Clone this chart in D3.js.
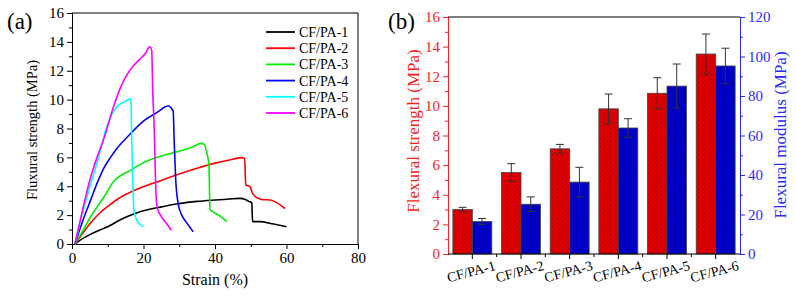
<!DOCTYPE html>
<html lang="en">
<head>
<meta charset="UTF-8">
<title>Flexural</title>
<style>
  body { margin: 0; background: #fff; }
  svg { display: block; }
  svg text { font-family: "Liberation Serif", serif; }
</style>
</head>
<body>
<svg width="796" height="297"></svg>
<script src="https://d3js.org/d3.v7.min.js"></script>
<script>
// ---- data (a): stress-strain curves, [strain %, stress MPa]
const curveNames = ["CF/PA-1", "CF/PA-2", "CF/PA-3", "CF/PA-4", "CF/PA-5", "CF/PA-6"];
const curveColors = ["#000000", "#ff0000", "#00ee00", "#0000ff", "#00ffff", "#ff00ff"];
const pa1 = [[0.8,0],[2,0.22],[5,0.65],[7.8,0.97],[10,1.2],[13.4,1.66],[16,1.95],[19,2.24],[22,2.42],[25,2.57],[30,2.8],[35,2.95],[40,3.05],[44,3.12],[47,3.16],[48.5,3.08],[49.5,2.95],[50.3,2.85],[50.5,1.55],[52.5,1.55],[56,1.4],[60,1.2]];
const pa2 = [[0.8,0],[2,0.4],[5,1.4],[8,2.2],[10,2.6],[13,3.15],[16,3.55],[19,3.88],[22,4.15],[25,4.4],[30,4.85],[35,5.25],[40,5.6],[45,5.87],[47.5,5.98],[48.3,5.9],[48.6,4.1],[49.8,3.97],[50.5,3.5],[52.1,3.16],[53.5,3.07],[55.4,3.05],[57,2.9],[59.6,2.45]];
const pa3 = [[0.8,0],[3,0.9],[5,1.8],[8.8,3.2],[12,4.43],[14,4.8],[16,5.05],[19,5.5],[22,5.85],[25,6.1],[28,6.3],[31,6.5],[34,6.75],[36,6.97],[37,6.9],[37.5,6.5],[38,6.0],[38.3,5.5],[38.6,2.4],[39.5,2.2],[41,2.0],[43.3,1.55]];
const pa4 = [[0.8,0],[3,1.6],[5,2.9],[7,4.2],[8.8,5.2],[10.5,5.9],[12.5,6.6],[16.2,7.6],[19.9,8.5],[23.7,9.1],[26.9,9.56],[28.3,9.2],[28.6,7],[29.0,4.5],[29.7,2.8],[30.7,2.0],[32,1.5],[33.9,0.85]];
const pa5 = [[0.8,0],[3,2.2],[5,3.97],[7,5.6],[9.7,8.1],[12.5,9.5],[14.8,9.86],[16.2,10.05],[16.5,9.9],[16.7,7.2],[17.0,4.5],[17.3,2.35],[18.1,1.66],[19.0,1.35],[20,1.2]];
const pa6 = [[0.8,0],[3,2.4],[5,4.43],[7,6.0],[8.8,7.2],[11.6,9.5],[13.5,10.8],[15.3,11.7],[17,12.3],[19,12.8],[20.5,13.2],[21.8,13.66],[22.3,13.4],[22.6,10.5],[23.0,8],[23.3,5],[23.6,3],[24.0,2.4],[25.0,1.9],[26.5,1.4],[27.8,0.95]];
const curves = [pa1, pa2, pa3, pa4, pa5, pa6];

// ---- data (b): bars
const categories = ["CF/PA-1", "CF/PA-2", "CF/PA-3", "CF/PA-4", "CF/PA-5", "CF/PA-6"];
const strength = [3.0, 5.5, 7.1, 9.8, 10.85, 13.5];
const strengthErr = [0.15, 0.6, 0.3, 1.0, 1.05, 1.35];
const modulus = [16.5, 25.2, 36.4, 63.8, 85, 95.2];
const modulusErr = [1.5, 3.7, 7.5, 4.7, 11.2, 9];

const FONT = "Liberation Serif";
const svg = d3.select("svg").attr("font-family", FONT);

// ================= (a) =================
const xA = d3.scaleLinear().domain([0, 80]).range([72, 358]);
const yA = d3.scaleLinear().domain([0, 16]).range([244, 13]);

const gA = svg.append("g");

// minor ticks
gA.append("g").attr("transform", "translate(0,244)")
  .call(d3.axisBottom(xA).tickValues([10, 30, 50, 70]).tickSize(3).tickFormat(""));
gA.append("g").attr("transform", "translate(72,0)")
  .call(d3.axisLeft(yA).tickValues(d3.range(1, 16, 2)).tickSize(3).tickFormat(""));
// major
gA.append("g").attr("class", "ax").attr("transform", "translate(0,244)")
  .call(d3.axisBottom(xA).tickValues([0, 20, 40, 60, 80]).tickSize(5).tickSizeOuter(0));
gA.append("g").attr("class", "ax").attr("transform", "translate(72,0)")
  .call(d3.axisLeft(yA).tickValues(d3.range(0, 17, 2)).tickSize(5).tickSizeOuter(0));
gA.selectAll(".ax text").style("font-size", "15px").attr("fill", "#000");
gA.selectAll("path.domain, .tick line").attr("stroke", "#000");

// frame
gA.append("path").attr("d", `M72,13H358V244`).attr("fill", "none").attr("stroke", "#000");

const line = d3.line().x(d => xA(d[0])).y(d => yA(d[1])).curve(d3.curveMonotoneX);
gA.selectAll("path.curve").data(curves).enter().append("path")
  .attr("class", "curve")
  .attr("d", line)
  .attr("fill", "none")
  .attr("stroke", (d, i) => curveColors[i])
  .attr("stroke-width", 1.6)
  .attr("stroke-linejoin", "round");

// legend
const leg = gA.selectAll("g.leg").data(curveNames).enter().append("g")
  .attr("class", "leg")
  .attr("transform", (d, i) => `translate(266,${32 + i * 16.2})`);
leg.append("line").attr("x1", 0).attr("x2", 29)
  .attr("stroke", (d, i) => curveColors[i]).attr("stroke-width", 1.8);
leg.append("text").attr("x", 33).attr("y", 5).text(d => d).style("font-size", "14px");

gA.append("text").attr("x", 215).attr("y", 285).attr("text-anchor", "middle")
  .style("font-size", "16px").text("Strain (%)");
gA.append("text").attr("transform", "translate(37,130) rotate(-90)").attr("text-anchor", "middle")
  .style("font-size", "14.5px").text("Fluxural strength (MPa)");
gA.append("text").attr("x", 7).attr("y", 29).style("font-size", "23px").text("(a)");

// ================= (b) =================
const defs = svg.append("defs");
function hatch(id, bg, fg) {
  const p = defs.append("pattern").attr("id", id).attr("patternUnits", "userSpaceOnUse")
    .attr("width", 3).attr("height", 3).attr("patternTransform", "rotate(45)");
  p.append("rect").attr("width", 3).attr("height", 3).attr("fill", bg);
  p.append("line").attr("x1", 0).attr("y1", 0).attr("x2", 0).attr("y2", 3)
    .attr("stroke", fg).attr("stroke-width", 1.1);
}
hatch("hRed", "#e80000", "#900000");
hatch("hBlue", "#0000d4", "#000078");

const xB = d3.scaleBand().domain(categories).range([448, 740]).paddingInner(0.2).paddingOuter(0.1);
const sub = d3.scaleBand().domain([0, 1]).range([0, xB.bandwidth()]);
const yL = d3.scaleLinear().domain([0, 16]).range([254, 17]);
const yR = d3.scaleLinear().domain([0, 120]).range([254, 17]);

const gB = svg.append("g");

// bars
const grp = gB.selectAll("g.grp").data(categories).enter().append("g")
  .attr("transform", d => `translate(${xB(d)},0)`);
grp.append("rect").attr("x", sub(0)).attr("width", sub.bandwidth())
  .attr("y", (d, i) => yL(strength[i])).attr("height", (d, i) => yL(0) - yL(strength[i]))
  .attr("fill", "url(#hRed)").attr("stroke", "#444").attr("stroke-width", 0.8);
grp.append("rect").attr("x", sub(1)).attr("width", sub.bandwidth())
  .attr("y", (d, i) => yR(modulus[i])).attr("height", (d, i) => yR(0) - yR(modulus[i]))
  .attr("fill", "url(#hBlue)").attr("stroke", "#444").attr("stroke-width", 0.8);

// error bars
function errBar(g, cx, top, bot) {
  g.append("path").attr("d", `M${cx},${top}V${bot}M${cx - 4},${top}H${cx + 4}M${cx - 4},${bot}H${cx + 4}`)
    .attr("stroke", "#333").attr("stroke-width", 1).attr("fill", "none");
}
grp.each(function (d, i) {
  const g = d3.select(this);
  const c0 = sub(0) + sub.bandwidth() / 2, c1 = sub(1) + sub.bandwidth() / 2;
  errBar(g, c0, yL(strength[i] + strengthErr[i]), yL(strength[i] - strengthErr[i]));
  errBar(g, c1, yR(modulus[i] + modulusErr[i]), yR(modulus[i] - modulusErr[i]));
});

// axes
const red = "#ff2020", blue = "#2a2aff";
gB.append("g").attr("transform", "translate(448,0)")
  .call(d3.axisLeft(yL).tickValues(d3.range(1, 16, 2)).tickSize(3).tickFormat(""))
  .selectAll("line,path").attr("stroke", red);
const axL = gB.append("g").attr("transform", "translate(448,0)")
  .call(d3.axisLeft(yL).tickValues(d3.range(0, 17, 2)).tickSize(5).tickSizeOuter(0));
axL.selectAll("line,path").attr("stroke", red);
axL.selectAll("text").attr("fill", red).style("font-size", "15px");

gB.append("g").attr("transform", "translate(740,0)")
  .call(d3.axisRight(yR).tickValues(d3.range(10, 120, 20)).tickSize(3).tickFormat(""))
  .selectAll("line,path").attr("stroke", blue);
const axR = gB.append("g").attr("transform", "translate(740,0)")
  .call(d3.axisRight(yR).tickValues(d3.range(0, 121, 20)).tickSize(5).tickSizeOuter(0));
axR.selectAll("line,path").attr("stroke", blue);
axR.selectAll("text").attr("fill", blue).style("font-size", "15px");

// bottom axis: ticks at group centres and boundaries
const axB = gB.append("g").attr("transform", "translate(0,254)");
axB.append("path").attr("d", "M448,0H740").attr("stroke", "#000");
const step = xB.step();
axB.selectAll("line.c").data(categories).enter().append("line")
  .attr("x1", d => xB(d) + xB.bandwidth() / 2).attr("x2", d => xB(d) + xB.bandwidth() / 2)
  .attr("y1", 0).attr("y2", 5).attr("stroke", "#000");
axB.selectAll("line.b").data(categories.slice(1)).enter().append("line")
  .attr("x1", d => xB(d) - step * xB.paddingInner() / 2).attr("x2", d => xB(d) - step * xB.paddingInner() / 2)
  .attr("y1", 0).attr("y2", 3).attr("stroke", "#000");
axB.selectAll("text").data(categories).enter().append("text")
  .attr("transform", d => `translate(${xB(d) + xB.bandwidth() / 2},22) rotate(-15)`)
  .attr("text-anchor", "middle").style("font-size", "14px").text(d => d);

gB.append("path").attr("d", "M448,17H740").attr("stroke", "#000");

gB.append("text").attr("transform", "translate(419,131) rotate(-90)").attr("text-anchor", "middle")
  .attr("fill", red).style("font-size", "17px").text("Flexural strength (MPa)");
gB.append("text").attr("transform", "translate(786,135) rotate(-90)").attr("text-anchor", "middle")
  .attr("fill", blue).style("font-size", "17px").text("Flexural modulus (MPa)");
gB.append("text").attr("x", 388).attr("y", 29).style("font-size", "23px").text("(b)");
</script>
</body>
</html>
